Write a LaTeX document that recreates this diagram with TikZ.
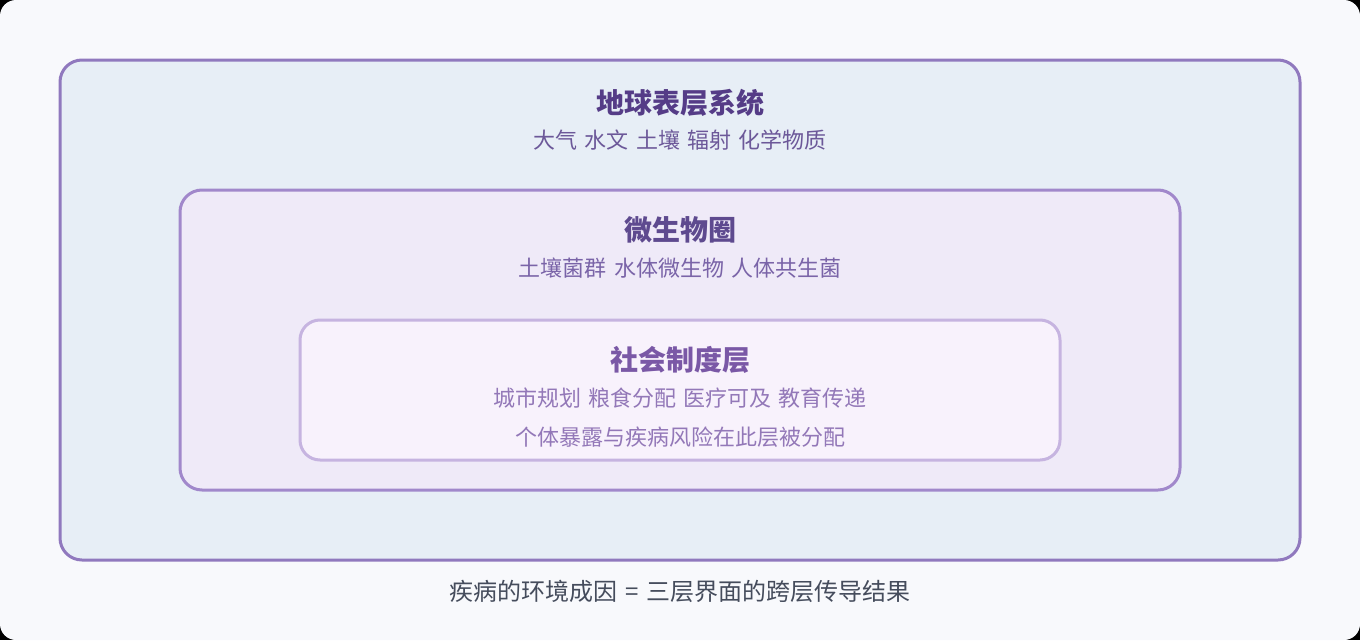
\documentclass[tikz,border=0pt]{standalone}
\usepackage{fontspec}
\setmainfont{Noto Sans CJK SC}
\definecolor{bg}{HTML}{F8F9FC}
\definecolor{ol}{HTML}{9079BE}
\definecolor{of}{HTML}{E7EEF6}
\definecolor{ml}{HTML}{A188CB}
\definecolor{mf}{HTML}{EFEAF8}
\definecolor{il}{HTML}{C6B4E0}
\definecolor{if}{HTML}{F8F2FC}
\definecolor{t1}{HTML}{553C87}
\definecolor{s1}{HTML}{6C5899}
\definecolor{t2}{HTML}{5E4A8F}
\definecolor{s2}{HTML}{7A64A8}
\definecolor{t3}{HTML}{7A58A6}
\definecolor{s3}{HTML}{9378B8}
\definecolor{ft}{HTML}{454C5C}
\newcommand\widesp{\spaceskip=0.32em\relax}
\begin{document}
\begin{tikzpicture}[x=1pt,y=-1pt,
  lay/.style={draw,rounded corners=22pt,line width=3pt,inner sep=0pt},
  ttl/.style={font=\fontsize{28}{32}\selectfont\bfseries},
  sub/.style={font=\fontsize{22}{26}\selectfont\widesp}]
\fill[black] (0,0) rectangle (1360,640);
\fill[bg,rounded corners=16pt] (0,0) rectangle (1360,640);
\node[lay,draw=ol,fill=of,minimum width=1240pt,minimum height=500pt] (earth) at (680,310) {};
\node[lay,draw=ml,fill=mf,minimum width=1000pt,minimum height=300pt] (micro) at (680,340) {};
\node[lay,draw=il,fill=if,minimum width=760pt,minimum height=140pt,rounded corners=20pt] (soc) at (680,390) {};
\node[ttl,text=t1] (earthT) at (680,103) {地球表层系统};
\node[sub,text=s1] (earthS) at (680,140) {大气 水文 土壤 辐射 化学物质};
\node[ttl,text=t2] (microT) at (680,230) {微生物圈};
\node[sub,text=s2] (microS) at (680,268) {土壤菌群 水体微生物 人体共生菌};
\node[ttl,text=t3] (socT) at (680,360) {社会制度层};
\node[sub,text=s3] (socS) at (680,398) {城市规划 粮食分配 医疗可及 教育传递};
\node[sub,text=s3] (socN) at (680,437) {个体暴露与疾病风险在此层被分配};
\node[sub,text=ft,font=\fontsize{24}{28}\selectfont\widesp] (note) at (680,591) {疾病的环境成因 = 三层界面的跨层传导结果};
\end{tikzpicture}
\end{document}
